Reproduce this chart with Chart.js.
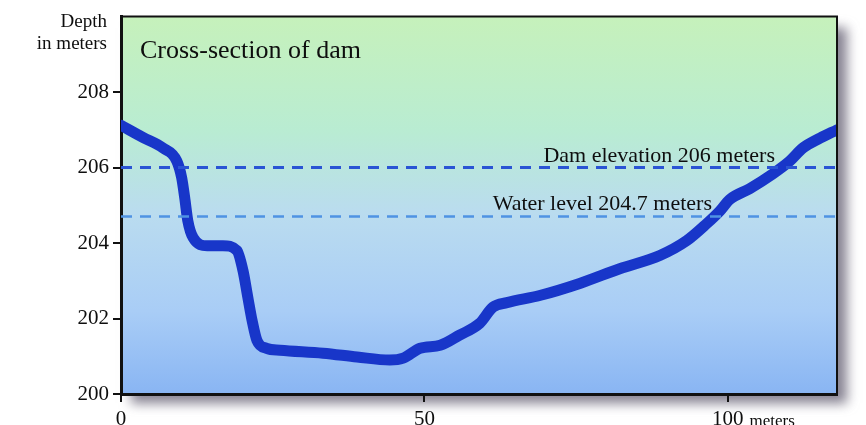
<!DOCTYPE html>
<html>
<head>
<meta charset="utf-8">
<script src="https://cdn.jsdelivr.net/npm/chart.js@4/dist/chart.umd.min.js"></script>
<style>
  html, body { margin: 0; padding: 0; background: #fff; }
  #wrap { width: 866px; height: 425px; position: relative; }
</style>
</head>
<body>
<div id="wrap"><canvas id="damChart"></canvas></div>
<script>
// distance across the dam (meters) and bottom depth
const distances = [0, 3.6, 6.9, 9.2, 10.0, 10.5, 11.0, 11.9, 14.2, 16.8, 19.1, 20.1, 20.9, 21.6, 22.4, 24.0,
    26.2, 33.3, 38.9, 44.3, 46.5, 49.3, 52.6, 55.8, 59.1, 61.3, 63.6, 69, 75.6, 82.2, 88.8, 93.2, 96.5,
    98.7, 100.3, 103.6, 107.4, 110.2, 112.4, 115.2, 118];
const depths = [207.12, 206.8, 206.52, 206.17, 205.73, 205.2, 204.6, 204.14, 203.93, 203.93, 203.8, 203.27,
    202.56, 201.95, 201.42, 201.21, 201.16, 201.08, 200.98, 200.9, 200.95, 201.21, 201.29, 201.56, 201.87,
    202.3, 202.42, 202.61, 202.93, 203.32, 203.67, 204.06, 204.51, 204.85, 205.15, 205.44, 205.83, 206.17,
    206.52, 206.78, 207.0];

const damElevation = 206;
const waterLevel = 204.7;
const yTicks = [200, 202, 204, 206, 208];
const xTicks = [0, 50, 100];

const serif = "'Liberation Serif', 'DejaVu Serif', serif";
const ink = '#0e0e0e';

const profile = distances.map((d, i) => ({ x: d, y: depths[i] }));
const flatLine = v => [{ x: 0, y: v }, { x: 118, y: v }];

// gradient panel with drop shadow, then box edges and labels on top
const panelPlugin = {
    id: 'panel',
    beforeDraw(chart) {
        const { ctx, chartArea: a } = chart;
        ctx.save();
        ctx.shadowColor = 'rgba(95, 90, 110, 0.75)';
        ctx.shadowBlur = 11;
        ctx.shadowOffsetX = 10;
        ctx.shadowOffsetY = 10;
        const g = ctx.createLinearGradient(0, a.top, 0, a.bottom);
        g.addColorStop(0, '#c6f1bb');
        g.addColorStop(0.3, '#b9ecd2');
        g.addColorStop(0.52, '#badcef');
        g.addColorStop(0.78, '#a9cdf6');
        g.addColorStop(1, '#89b5f3');
        ctx.fillStyle = g;
        ctx.fillRect(a.left, a.top, a.right - a.left, a.bottom - a.top);
        ctx.restore();
    },
    afterDraw(chart) {
        const { ctx, chartArea: a, scales: { x, y } } = chart;
        ctx.save();
        // top and right edges of the box
        ctx.strokeStyle = '#111';
        ctx.lineWidth = 2;
        ctx.beginPath();
        ctx.moveTo(a.left, a.top);
        ctx.lineTo(a.right, a.top);
        ctx.lineTo(a.right, a.bottom);
        ctx.stroke();

        ctx.fillStyle = ink;
        ctx.font = '26px ' + serif;
        ctx.textAlign = 'left';
        ctx.fillText('Cross-section of dam', a.left + 19, 58);

        ctx.font = '19px ' + serif;
        ctx.textAlign = 'right';
        ctx.fillText('Depth', 107, 27);
        ctx.fillText('in meters', 107, 49);

        ctx.font = '22px ' + serif;
        ctx.fillText('Dam elevation ' + damElevation + ' meters', 775, y.getPixelForValue(damElevation) - 6);
        ctx.fillText('Water level ' + waterLevel + ' meters', 712, y.getPixelForValue(waterLevel) - 7);

        // unit after the last x tick
        ctx.font = '21px ' + serif;
        const w = ctx.measureText('100').width;
        ctx.font = '17px ' + serif;
        ctx.textAlign = 'left';
        ctx.fillText('meters', x.getPixelForValue(100) + w / 2 + 6, 426);
        ctx.restore();
    }
};

new Chart(document.getElementById('damChart'), {
    type: 'line',
    data: {
        datasets: [
            {
                data: flatLine(damElevation),
                borderColor: '#2a54d4',
                borderWidth: 3,
                borderDash: [11, 8],
                pointRadius: 0
            },
            {
                data: flatLine(waterLevel),
                borderColor: '#4f93e3',
                borderWidth: 2.5,
                borderDash: [11, 8],
                pointRadius: 0
            },
            {
                data: profile,
                borderColor: '#1836c9',
                borderWidth: 11,
                borderCapStyle: 'round',
                borderJoinStyle: 'round',
                cubicInterpolationMode: 'monotone',
                pointRadius: 0,
                clip: 0
            }
        ]
    },
    options: {
        responsive: true,
        maintainAspectRatio: false,
        animation: false,
        layout: { padding: { top: 16, right: 29, left: 0, bottom: 0 } },
        plugins: { legend: { display: false }, tooltip: { enabled: false } },
        scales: {
            x: {
                type: 'linear',
                min: 0,
                max: 118,
                afterBuildTicks: axis => { axis.ticks = xTicks.map(v => ({ value: v })); },
                afterFit: axis => { axis.height = 31; },
                border: { display: true, color: '#111', width: 3 },
                grid: { drawOnChartArea: false, drawTicks: true, tickLength: 8, color: '#111', lineWidth: 2 },
                ticks: {
                    color: ink,
                    padding: 5,
                    maxRotation: 0,
                    autoSkip: false,
                    font: { family: serif, size: 21 }
                }
            },
            y: {
                min: 200,
                max: 210,
                afterBuildTicks: axis => { axis.ticks = yTicks.map(v => ({ value: v })); },
                afterFit: axis => { axis.width = 121; },
                border: { display: true, color: '#111', width: 3 },
                grid: { drawOnChartArea: false, drawTicks: true, tickLength: 8, color: '#111', lineWidth: 2 },
                ticks: {
                    color: ink,
                    padding: 4,
                    font: { family: serif, size: 21 }
                }
            }
        }
    },
    plugins: [panelPlugin]
});
</script>
</body>
</html>
